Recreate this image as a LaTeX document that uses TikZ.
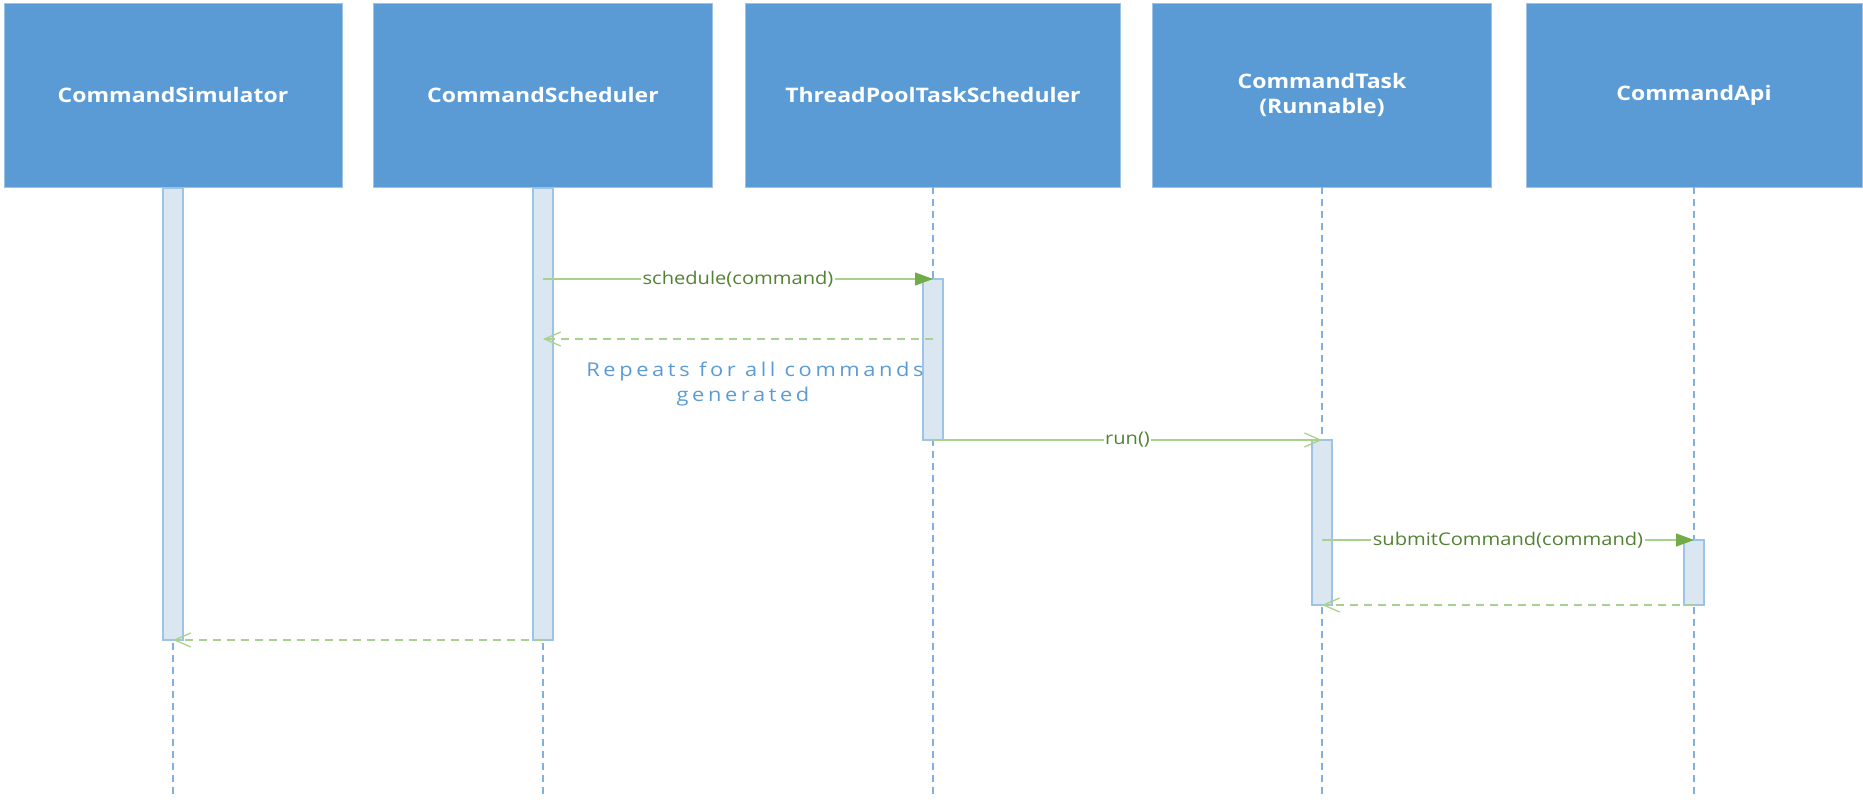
\documentclass[tikz,border=0pt]{standalone}
\usepackage{fontspec}
\setmainfont{Open Sans}
\newfontfamily\headfont[FakeStretch=1.15]{Open Sans}
\newfontfamily\lblfont[FakeStretch=1.15]{Open Sans}
\newfontfamily\notefont[FakeStretch=1.15,LetterSpace=19]{Open Sans}
\usetikzlibrary{arrows.meta}

\definecolor{boxblue}{HTML}{5B9BD5}
\definecolor{boxedge}{HTML}{9DC3E6}
\definecolor{lifeblue}{HTML}{7FB0DF}
\definecolor{barfill}{HTML}{DAE7F0}
\definecolor{baredge}{HTML}{9DC3E6}
\definecolor{msgline}{HTML}{A9D18E}
\definecolor{tipgreen}{HTML}{70AD47}
\definecolor{lblgreen}{HTML}{548235}

\tikzset{
  actor/.style={rectangle, fill=boxblue, draw=boxedge, line width=0.8pt,
    inner sep=0pt, outer sep=0pt, minimum height=184pt, text=white,
    align=center, font=\headfont\bfseries\fontsize{20}{25}\selectfont},
  lifeline/.style={draw=lifeblue, line width=1.4pt, dash pattern=on 7pt off 5pt},
  actbar/.style={rectangle, fill=barfill, draw=baredge, line width=1.5pt,
    inner sep=0pt, outer sep=0pt, minimum width=20pt},
  msg/.style={draw=msgline, line width=1.3pt},
  callmsg/.style={msg, -{Triangle[length=18pt,width=13pt,fill=tipgreen,color=tipgreen]}},
  asyncmsg/.style={msg, -{Straight Barb[length=16pt,width=14pt]}},
  retmsg/.style={msg, dash pattern=on 8pt off 6pt, -{Straight Barb[length=16pt,width=14pt]}},
  msglabel/.style={fill=white, inner sep=1.5pt, text=lblgreen,
    font=\lblfont\fontsize{17.5}{21}\selectfont},
}

\begin{document}
\begin{tikzpicture}[x=1pt,y=-1pt]
  \useasboundingbox (0,0) rectangle (1863,800);

  % participants
  \node[actor, minimum width=338pt] (sim)   at (173,95)  {CommandSimulator};
  \node[actor, minimum width=339pt] (sched) at (543,95)  {CommandScheduler};
  \node[actor, minimum width=375pt] (tp)    at (933,95)  {ThreadPoolTaskScheduler};
  \node[actor, minimum width=339pt] (task)  at (1322,95) {CommandTask\\(Runnable)};
  \node[actor, minimum width=336pt] (api)   at (1694,95) {CommandApi};

  % lifeline ends
  \coordinate (simend)   at (173,796);
  \coordinate (schedend) at (543,796);
  \coordinate (tpend)    at (933,796);
  \coordinate (taskend)  at (1322,796);
  \coordinate (apiend)   at (1694,796);

  \draw[lifeline] (sim.south)   -- (simend);
  \draw[lifeline] (sched.south) -- (schedend);
  \draw[lifeline] (tp.south)    -- (tpend);
  \draw[lifeline] (task.south)  -- (taskend);
  \draw[lifeline] (api.south)   -- (apiend);

  % activation bars
  \node[actbar, minimum height=452pt] (simbar)   at (173,414)   {};
  \node[actbar, minimum height=452pt] (schedbar) at (543,414)   {};
  \node[actbar, minimum height=161pt] (tpbar)    at (933,359.5) {};
  \node[actbar, minimum height=165pt] (taskbar)  at (1322,522.5) {};
  \node[actbar, minimum height=65pt]  (apibar)   at (1694,572.5) {};

  % messages
  \draw[callmsg] (schedbar.center |- tpbar.north) -- node[msglabel] {schedule(command)} (tpbar.north);

  \coordinate (backfrom) at (933,339);
  \coordinate (backto)   at (543,339);
  \draw[retmsg] (backfrom) -- (backto);

  \node[text=boxblue, align=center, font=\notefont\fontsize{19}{25}\selectfont]
    (note) at (755,384) {Repeats for all commands\\generated\hspace*{24pt}};

  \draw[asyncmsg] (tpbar.south) -- node[msglabel] {run()} (taskbar.north);

  \draw[callmsg] (taskbar.center |- apibar.north) -- node[msglabel] {submitCommand(command)} (apibar.north);

  \draw[retmsg] (apibar.south) -- (taskbar.south);

  \draw[retmsg] (schedbar.south) -- (simbar.south);
\end{tikzpicture}
\end{document}
